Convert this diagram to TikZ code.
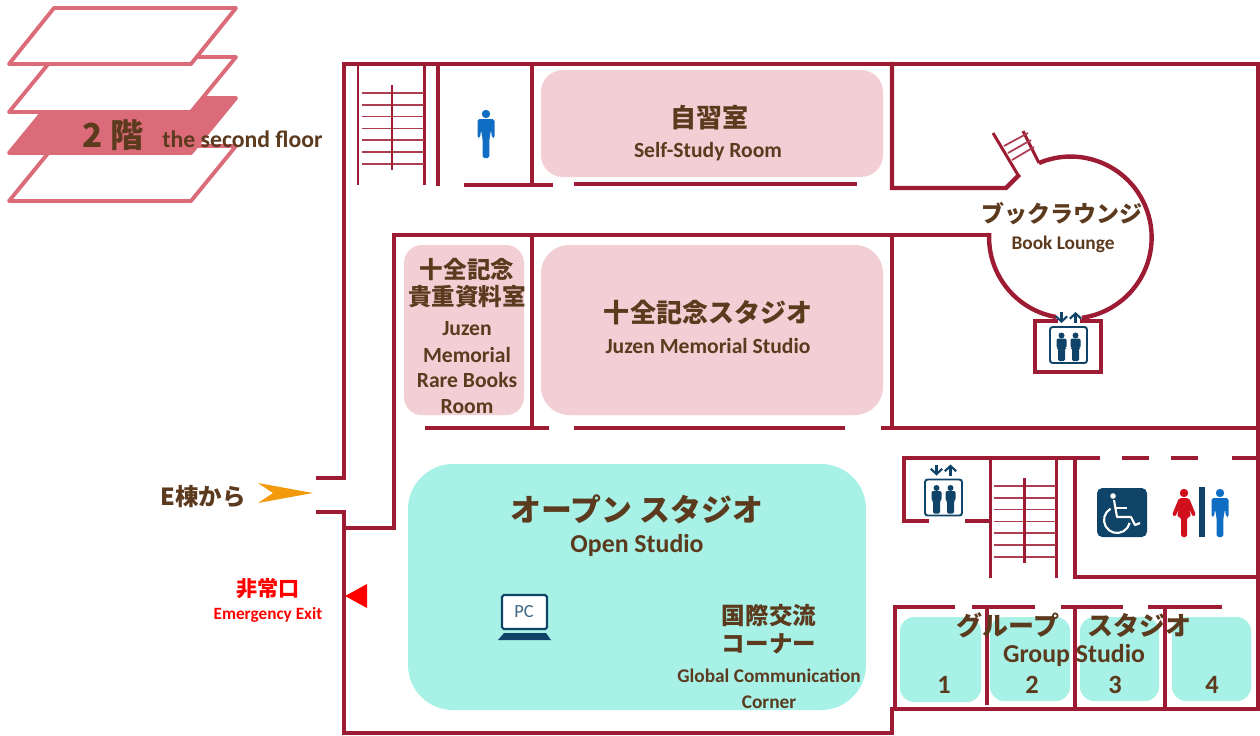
\documentclass[tikz,border=0pt]{standalone}
\usepackage{fontspec}
\usepackage{tikz}
\usetikzlibrary{arrows.meta}
\setmainfont{Carlito}
\newfontfamily\jpfont{Noto Sans CJK JP}
\definecolor{wallred}{HTML}{9E1C33}
\definecolor{floorrose}{HTML}{DB6B78}
\definecolor{roompink}{HTML}{F2CFD4}
\definecolor{roomteal}{HTML}{A8F1E7}
\definecolor{labelbrown}{HTML}{5C3A1E}
\definecolor{signblue}{HTML}{0F4468}
\definecolor{manblue}{HTML}{0F6EC4}
\definecolor{womanred}{HTML}{D0101C}
\definecolor{exitred}{HTML}{FF0000}
\definecolor{arroworange}{HTML}{F29A0C}
\tikzset{
    wall/.style = {draw=wallred, line width=2.5pt, line cap=rect},
    rail/.style = {draw=wallred, line width=1.7pt},
    tread/.style = {draw=wallred!85, line width=1pt},
    floorplate/.style = {draw=floorrose, line width=2.2pt, line join=round, fill=white},
    pinkroom/.style = {fill=roompink},
    tealroom/.style = {fill=roomteal},
    jplabel/.style = {font=\jpfont\bfseries\fontsize{14.8}{16}\selectfont, text=labelbrown, inner sep=0pt},
    jpsmall/.style = {jplabel, font=\jpfont\bfseries\fontsize{13.4}{15}\selectfont},
    jpbig/.style = {jplabel, font=\jpfont\bfseries\fontsize{17.6}{19}\selectfont},
    enlabel/.style = {font=\bfseries\fontsize{12.3}{14}\selectfont, text=labelbrown, inner sep=0pt, yshift=-0.7pt},
    ensmall/.style = {enlabel, font=\bfseries\fontsize{11}{13}\selectfont},
    enbig/.style = {enlabel, font=\bfseries\fontsize{14.7}{17}\selectfont},
    numlabel/.style = {enlabel, font=\bfseries\fontsize{15}{17}\selectfont},
    man/.pic = {
        \fill[manblue] (0,-20) circle (4.2);
        \fill[manblue, rounded corners=1pt] (-8.5,-15) -- (8.5,-15) -- (8.5,4) -- (6,4) -- (5,-4) -- (3.3,6)
            -- (3.3,24) -- (-3.3,24) -- (-3.3,6) -- (-5,-4) -- (-6,4) -- (-8.5,4) -- cycle;
    },
    woman/.pic = {
        \fill[womanred] (0,-20) circle (4.2);
        \fill[womanred, rounded corners=1pt] (-5,-15) -- (5,-15) -- (12,2) -- (9,4) -- (5,-4) -- (7,4)
            -- (3,4) -- (3,24) -- (-3,24) -- (-3,4) -- (-7,4) -- (-5,-4) -- (-9,4) -- (-12,2) -- cycle;
    },
    lift/.pic = {
        \draw[signblue, line width=1.1pt, rounded corners=1.5pt, fill=white] (-18.5,-18) rectangle (18.5,18);
        \draw[signblue, line width=1.2pt, -{Straight Barb[length=3pt,width=6.5pt]}] (-7,-33) -- (-7,-22);
        \draw[signblue, line width=1.2pt, -{Straight Barb[length=3pt,width=6.5pt]}] (7,-22) -- (7,-33);
        \foreach \xoff in {-7,7} {
            \fill[signblue] (\xoff,-9.5) circle (3);
            \fill[signblue, rounded corners=0.8pt] (\xoff-5,-6.5) -- (\xoff+5,-6.5) -- (\xoff+5,3)
                -- (\xoff+3.5,3) -- (\xoff+3.5,16) -- (\xoff-3.5,16) -- (\xoff-3.5,3) -- (\xoff-5,3) -- cycle;
        }
    },
    stairs/.pic = {
        \draw[rail] (358,64) -- (358,185);
        \draw[rail] (424,64) -- (424,185);
        \foreach \ty in {93,104.8,...,165} {
            \draw[tread] (362,\ty) -- (424,\ty);
        }
        \draw[rail] (392,85) -- (392,170);
    },
}
\begin{document}
\begin{tikzpicture}[x=0.02cm, y=-0.02cm]
    \useasboundingbox (0,0) rectangle (1260,735);
    % floor stack
    \draw[floorplate] (54,146) -- (236,146) -- (191,201) -- (9,201) -- cycle;
    \draw[floorplate, fill=floorrose] (54,98) -- (236,98) -- (191,153) -- (9,153) -- cycle;
    \draw[floorplate] (54,57) -- (236,57) -- (191,112) -- (9,112) -- cycle;
    \draw[floorplate] (54,8) -- (236,8) -- (191,64) -- (9,64) -- cycle;
    % rooms
    \fill[pinkroom, rounded corners=0.44cm] (541,70) rectangle (883,177);
    \fill[pinkroom, rounded corners=0.56cm] (541,245) rectangle (883,415);
    \fill[pinkroom, rounded corners=0.36cm] (404,245) rectangle (524,415);
    \fill[tealroom, rounded corners=0.9cm] (408,464) rectangle (866,710);
    \fill[tealroom, rounded corners=0.28cm] (900,617) rectangle (981,702);
    \fill[tealroom, rounded corners=0.28cm] (990,617) rectangle (1070,701);
    \fill[tealroom, rounded corners=0.28cm] (1080,617) rectangle (1159,701);
    \fill[tealroom, rounded corners=0.28cm] (1172,617) rectangle (1251,701);
    % outer walls
    \draw[wall] (318,478) -- (344,478) -- (344,64) -- (1258,64) -- (1258,709) -- (892,709) -- (892,733)
        -- (344,733) -- (344,512) -- (318,512);
    % upper wing
    \draw[wall] (438,64) -- (438,184);
    \draw[wall] (532,64) -- (532,185);
    \draw[wall] (466,185) -- (551,185);
    \draw[wall] (576,184) -- (855,184);
    \draw[wall] (892,64) -- (892,188) -- (1006,188) -- (1018,176);
    \draw[wall] (989,235) -- (394,235) -- (394,528) -- (344,528);
    \draw[wall] (532,235) -- (532,428);
    \draw[wall] (427,428) -- (547,428);
    \draw[wall] (576,428) -- (843,428);
    \draw[wall] (892,235) -- (892,428);
    \draw[wall] (883,428) -- (1258,428);
    % lounge
    \draw[wall, line cap=butt] (1039,163) arc[start angle=-113, end angle=82, radius=81];
    \draw[wall, line cap=butt] (1056,317) arc[start angle=100, end angle=183, radius=81];
    \draw[rail] (993,133) -- (1018,175);
    \draw[rail] (1023,131) -- (1039,163);
    \draw[tread] (1004,146) -- (1028,133);
    \draw[tread] (1008,153) -- (1031,140);
    \draw[tread] (1012,160) -- (1034,147);
    \draw[wall] (1056,321) -- (1035,321) -- (1035,372) -- (1101,372) -- (1101,321) -- (1082,321);
    % lower wing
    \draw[wall] (904,521) -- (904,458) -- (1098,458);
    \draw[wall] (904,521) -- (927,521);
    \draw[wall] (967,521) -- (990,521);
    \draw[wall] (1124,458) -- (1147,458);
    \draw[wall] (1173,458) -- (1196,458);
    \draw[wall] (1234,458) -- (1258,458);
    \draw[wall] (1075,458) -- (1075,577) -- (1258,577);
    % group studios
    \draw[wall] (895,709) -- (895,607) -- (953,607);
    \draw[wall] (974,607) -- (1033,607);
    \draw[wall] (1063,607) -- (1121,607);
    \draw[wall] (1150,607) -- (1220,607);
    \draw[wall] (987,607) -- (987,703);
    \draw[wall] (1075,607) -- (1075,709);
    \draw[wall] (1165,607) -- (1165,709);
    % stairs
    \pic at (0,0) {stairs};
    \pic at (632,393) {stairs};
    % signs
    \pic at (486,134) {man};
    \pic at (1220,513) {man};
    \pic at (1184,513) {woman};
    \pic at (1068.5,345) {lift};
    \pic at (943.5,497.5) {lift};
    \fill[signblue] (1199,487) rectangle (1205,537);
    \fill[signblue, rounded corners=3pt] (1097,488) rectangle (1147,537);
    \fill[white] (1113,496) circle (2.8);
    \draw[white, line width=1.2pt, line join=round] (1114,500) -- (1117,517) -- (1131,517) -- (1135,525) -- (1140,523);
    \draw[white, line width=1.2pt] (1116,508) -- (1127,508);
    \draw[white, line width=1.2pt] (1110.5,508.7) arc[start angle=240, end angle=13, radius=13];
    \draw[signblue, line width=1.2pt, rounded corners=1pt, fill=white] (502,595) rectangle (547,629);
    \fill[signblue] (504,633) -- (546,633) -- (551,640) -- (498,640) -- cycle;
    \node[font=\fontsize{10.5}{12}\selectfont, text=signblue!80, inner sep=0pt] (pclabel) at (524,612) {PC};
    % arrows
    \fill[arroworange] (258,483) -- (313,493) -- (258,503) -- (273,493) -- cycle;
    \fill[exitred] (345,596) -- (367,584) -- (367,608) -- cycle;
    % labels
    \node[jpbig, anchor=west, font=\jpfont\bfseries\fontsize{18.8}{20}\selectfont] (floornum) at (82,135) {2 階};
    \node[enlabel, anchor=west, font=\bfseries\fontsize{13.5}{15}\selectfont] (floorname) at (162,138) {the second floor};
    \node[jplabel] (selfjp) at (709,118) {自習室};
    \node[enlabel] (selfen) at (708,150) {Self-Study Room};
    \node[jplabel] (juzenjp) at (708,313) {十全記念スタジオ};
    \node[enlabel] (juzenen) at (708,345) {Juzen Memorial Studio};
    \node[jpsmall] (rarejpa) at (467,269) {十全記念};
    \node[jpsmall] (rarejpb) at (467,297) {貴重資料室};
    \node[enlabel] (rareena) at (467,327) {Juzen};
    \node[enlabel] (rareenb) at (467,354) {Memorial};
    \node[enlabel] (rareenc) at (467,379) {Rare Books};
    \node[enlabel] (rareend) at (467,405) {Room};
    \node[jpbig] (openjp) at (637,509) {オープン スタジオ};
    \node[enbig] (openen) at (637,544) {Open Studio};
    \node[jpsmall] (globaljpa) at (769,616) {国際交流};
    \node[jpsmall] (globaljpb) at (769,644) {コーナー};
    \node[ensmall] (globalena) at (769,675) {Global Communication};
    \node[ensmall] (globalenb) at (769,701) {Corner};
    \node[jpsmall, font=\jpfont\bfseries\fontsize{13.1}{15}\selectfont] (loungejp) at (1062,214) {ブックラウンジ};
    \node[ensmall] (loungeen) at (1063,243) {Book Lounge};
    \node[jpsmall, anchor=west] (fromwing) at (160,497) {E棟から};
    \node[jpsmall, text=exitred, font=\jpfont\bfseries\fontsize{12}{14}\selectfont] (exitjp) at (268,589) {非常口};
    \node[ensmall, text=exitred, font=\bfseries\fontsize{9.8}{11}\selectfont] (exiten) at (268,614) {Emergency Exit};
    \node[jplabel] (groupjpa) at (1008,625) {グループ};
    \node[jplabel] (groupjpb) at (1139,625) {スタジオ};
    \node[enbig] (groupen) at (1074,654) {Group Studio};
    \node[numlabel] (numa) at (944,684) {1};
    \node[numlabel] (numb) at (1032,684) {2};
    \node[numlabel] (numc) at (1115,684) {3};
    \node[numlabel] (numd) at (1212,684) {4};
\end{tikzpicture}
\end{document}
